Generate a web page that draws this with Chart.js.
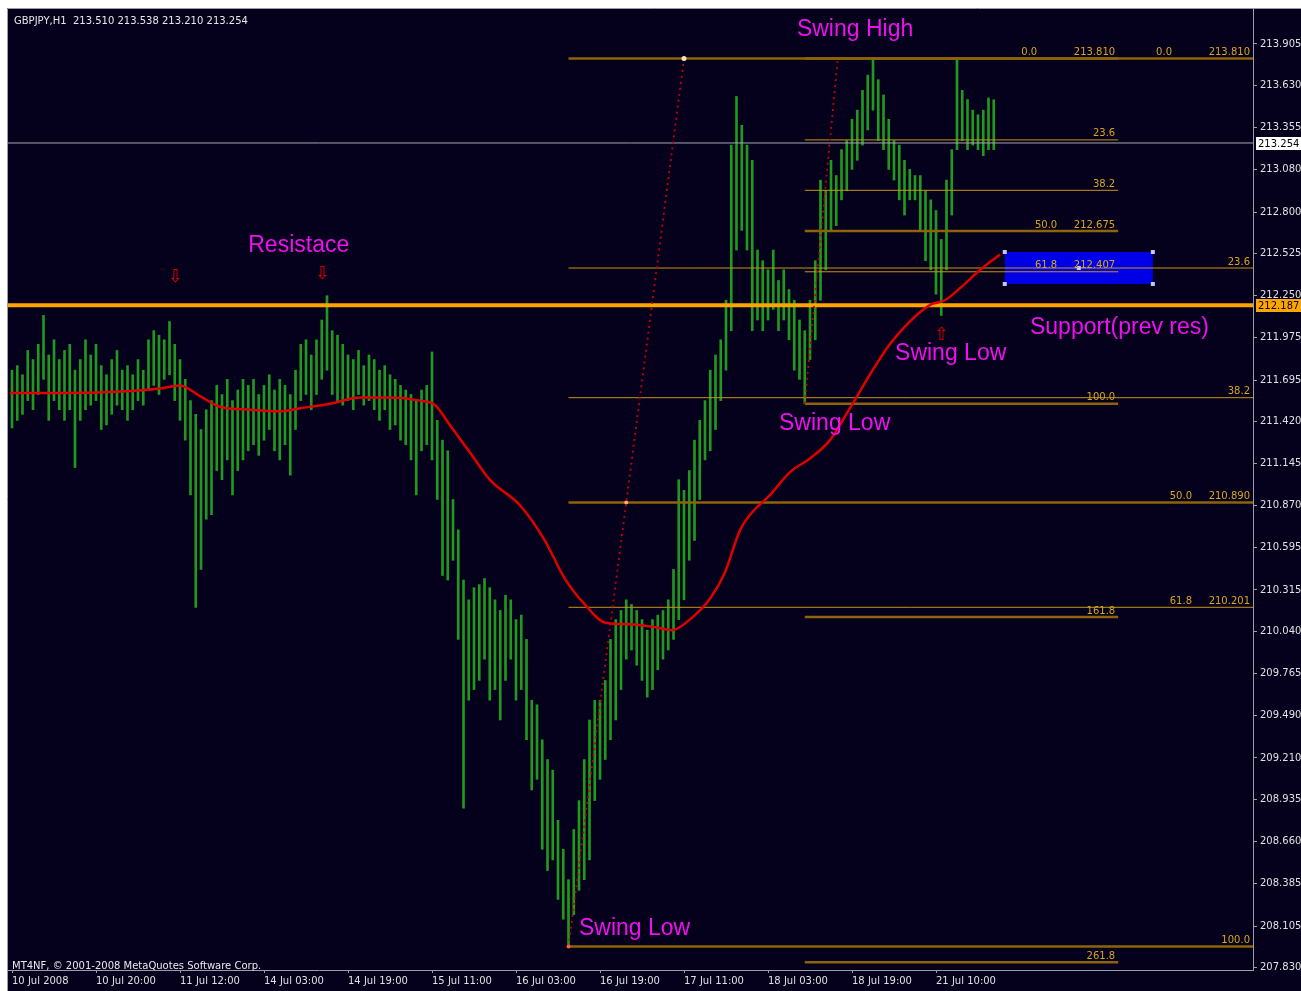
<!DOCTYPE html>
<html>
<head>
<meta charset="utf-8">
<title>GBPJPY,H1</title>
<script src="https://cdn.jsdelivr.net/npm/chart.js@4.4.1/dist/chart.umd.min.js"></script>
<style>
  html, body { margin: 0; padding: 0; background: #ffffff; }
  #wrap { width: 1301px; height: 991px; }
</style>
</head>
<body>
<div id="wrap"><canvas id="gbpjpy_chart" width="1301" height="991"></canvas></div>
<script>
// hourly bars, index 0 = 10 Jul 2008
const barHigh = [
    211.76, 211.79, 211.73, 211.89, 211.83, 211.93, 212.12, 211.86, 211.96, 211.83,
    211.89, 211.93, 211.76, 211.83, 211.96, 211.86, 211.93, 211.79, 211.73, 211.83,
    211.89, 211.76, 211.79, 211.73, 211.83, 211.76, 211.96, 212.02, 211.99, 211.96,
    212.08, 211.93, 211.83, 211.70, 211.56, 211.47, 211.37, 211.50, 211.56, 211.66,
    211.60, 211.70, 211.56, 211.63, 211.70, 211.66, 211.70, 211.60, 211.66, 211.73,
    211.63, 211.70, 211.66, 211.60, 211.76, 211.93, 211.96, 211.86, 211.96, 212.09,
    212.25, 212.02, 211.99, 211.93, 211.86, 211.83, 211.89, 211.79, 211.86, 211.83,
    211.76, 211.79, 211.73, 211.70, 211.66, 211.63, 211.60, 211.56, 211.63, 211.66,
    211.88, 211.43, 211.30, 211.23, 210.91, 210.71, 210.38, 210.25, 210.33, 210.35,
    210.39, 210.33, 210.25, 210.18, 210.28, 210.25, 210.12, 210.15, 209.99, 209.59,
    209.56, 209.33, 209.20, 209.13, 208.80, 208.61, 208.41, 208.74, 208.93, 209.20,
    209.46, 209.59, 209.59, 209.72, 209.99, 210.12, 210.18, 210.25, 210.22, 210.18,
    210.12, 210.05, 210.12, 210.15, 210.18, 210.25, 210.45, 211.04, 210.97, 211.10,
    211.30, 211.43, 211.56, 211.76, 211.86, 211.96, 212.22, 213.24, 213.56, 213.37,
    213.24, 213.14, 212.55, 212.48, 212.42, 212.55, 212.35, 212.42, 212.29, 212.22,
    212.09, 212.02, 212.22, 212.48, 213.01, 212.94, 213.14, 213.04, 213.21, 213.27,
    213.41, 213.47, 213.60, 213.70, 213.81, 213.67, 213.57, 213.41, 213.27, 213.24,
    213.14, 213.08, 213.04, 213.04, 212.94, 212.88, 212.81, 212.62, 213.01, 213.21,
    213.80, 213.60, 213.54, 213.47, 213.44, 213.47, 213.55, 213.538
];
const barLow = [
    211.38, 211.43, 211.47, 211.56, 211.50, 211.60, 211.70, 211.43, 211.56, 211.50,
    211.43, 211.50, 211.12, 211.43, 211.50, 211.53, 211.56, 211.37, 211.40, 211.47,
    211.53, 211.50, 211.43, 211.50, 211.56, 211.53, 211.63, 211.66, 211.60, 211.70,
    211.73, 211.56, 211.43, 211.30, 210.94, 210.20, 210.45, 210.78, 210.81, 211.10,
    211.04, 211.17, 210.94, 211.10, 211.17, 211.23, 211.27, 211.20, 211.30, 211.37,
    211.23, 211.17, 211.27, 211.07, 211.37, 211.56, 211.60, 211.50, 211.60, 211.70,
    211.76, 211.60, 211.56, 211.53, 211.56, 211.50, 211.60, 211.53, 211.56, 211.50,
    211.43, 211.50, 211.37, 211.40, 211.30, 211.27, 211.17, 210.94, 211.23, 211.27,
    211.17, 210.91, 210.41, 210.38, 210.51, 209.99, 208.88, 209.59, 209.66, 209.72,
    209.86, 209.59, 209.66, 209.46, 209.72, 209.86, 209.59, 209.66, 209.33, 209.00,
    209.07, 208.61, 208.47, 208.54, 208.28, 208.15, 207.97, 208.18, 208.34, 208.41,
    208.54, 208.93, 209.07, 209.20, 209.33, 209.46, 209.66, 209.86, 209.92, 209.82,
    209.72, 209.61, 209.66, 209.79, 209.86, 209.92, 209.99, 210.12, 210.25, 210.51,
    210.64, 210.91, 211.17, 211.23, 211.37, 211.56, 211.76, 212.02, 212.55, 212.68,
    212.55, 212.02, 212.09, 212.02, 212.09, 212.16, 212.02, 212.09, 211.96, 211.76,
    211.70, 211.54, 211.83, 211.96, 212.22, 212.42, 212.68, 212.71, 212.88, 212.94,
    213.08, 213.14, 213.24, 213.34, 213.47, 213.27, 213.21, 213.08, 213.01, 212.88,
    212.78, 212.88, 212.88, 212.68, 212.48, 212.42, 212.26, 212.12, 212.42, 212.78,
    213.21, 213.27, 213.21, 213.24, 213.21, 213.17, 213.21, 213.210
];

// red moving average, read at a few bar positions
const maIndex = [-0.4, 9.1, 20.6, 28.2, 32, 35.8, 39.6, 45.3, 51, 54.9, 60.6, 66.3, 72, 77.7, 80.6,
    83.4, 87.2, 91, 96.8, 101.5, 105.3, 109.1, 113, 117.7, 122.5, 125.7, 129.1, 133, 135.8, 138.7,
    140.6, 144.4, 148.2, 152, 155.8, 159.6, 163.4, 167.2, 171, 174.9, 177.7, 180.6, 184.4, 188.2];
const maPrice = [211.61, 211.61, 211.62, 211.64, 211.66, 211.59, 211.52, 211.50, 211.49, 211.51, 211.54, 211.58, 211.58, 211.56, 211.53,
    211.40, 211.22, 211.04, 210.87, 210.64, 210.39, 210.22, 210.10, 210.09, 210.07, 210.05, 210.12, 210.26, 210.43, 210.71,
    210.81, 210.94, 211.09, 211.18, 211.30, 211.51, 211.73, 211.93, 212.08, 212.19, 212.22, 212.30, 212.42, 212.52];

const dateTickIndex = [0, 16, 32, 48, 64, 80, 96, 112, 128, 144, 160, 176];
const dateLabels = ['10 Jul 2008', '10 Jul 20:00', '11 Jul 12:00', '14 Jul 03:00', '14 Jul 19:00', '15 Jul 11:00',
    '16 Jul 03:00', '16 Jul 19:00', '17 Jul 11:00', '18 Jul 03:00', '18 Jul 19:00', '21 Jul 10:00'];
const priceTicks = [213.905, 213.630, 213.355, 213.080, 212.800, 212.525, 212.250, 211.975, 211.695, 211.420, 211.145,
    210.870, 210.595, 210.315, 210.040, 209.765, 209.490, 209.210, 208.935, 208.660, 208.385, 208.105, 207.830];

// fibonacci objects: [start bar, low, end bar, high]
const bigFib = [106, 207.970, 128, 213.810];
const smallFib = [151, 211.540, 157.3, 213.810];
const bigFibLevels = [0, 23.6, 38.2, 50, 61.8, 100];
const smallFibLevels = [0, 23.6, 38.2, 50, 61.8, 100, 161.8, 261.8];
const fibThickLevels = [0, 50, 100, 161.8, 261.8];
const fibPriceLevels = [0, 50, 61.8];
const smallFibEnd = 210.7;

const bidPrice = 213.254;
const supportPrice = 212.187;
const zoneBox = [189.1, 212.537, 217.3, 212.327];

const notes = ['Swing High', 'Resistace', 'Support(prev res)', 'Swing Low', 'Swing Low', 'Swing Low'];
const noteIndex = [149.5, 45, 193.9, 168.2, 146.1, 108];
const notePrice = [214.00, 212.58, 212.04, 211.87, 211.41, 208.09];
const arrowGlyph = ['\u21e9', '\u21e9', '\u21e7'];
const arrowIndex = [31.2, 59.2, 177.1];
const arrowPrice = [212.37, 212.39, 211.99];

document.addEventListener('DOMContentLoaded', function () {
    const ctx = document.getElementById('gbpjpy_chart').getContext('2d');
    const xMin = -0.762, xMax = 236.38;
    const fibDim = '#8e6408', fibBright = '#c8960e', fibText = '#d8a520';

    function fibPrice(f, lvl) {
        return f[3] - (f[3] - f[1]) * lvl / 100;
    }

    function fibLines(f, levels, endX) {
        return levels.map(lvl => {
            const thick = fibThickLevels.includes(lvl);
            return {
                type: 'line',
                data: [{ x: f[0], y: fibPrice(f, lvl) }, { x: endX, y: fibPrice(f, lvl) }],
                borderColor: thick ? fibDim : fibBright,
                borderWidth: thick ? 2.5 : 1,
                pointRadius: 0,
                order: 4
            };
        });
    }

    const bars = barHigh.map((h, i) => ({ x: i, y: [barLow[i], h] }));
    const ma = maIndex.map((x, i) => ({ x: x, y: maPrice[i] }));

    const backdrop = {
        id: 'backdrop',
        beforeDraw(chart) {
            const c = chart.ctx;
            c.save();
            c.fillStyle = '#ffffff';
            c.fillRect(0, 0, chart.width, chart.height);
            c.fillStyle = '#05011d';
            c.fillRect(7, 8, chart.width - 7, chart.height - 8);
            c.strokeStyle = '#9c9cab';
            c.lineWidth = 1;
            c.beginPath();
            c.moveTo(7.5, chart.height);
            c.lineTo(7.5, 8.5);
            c.lineTo(chart.width, 8.5);
            c.stroke();
            c.restore();
        },
        beforeDatasetsDraw(chart) {
            const c = chart.ctx, xs = chart.scales.x, ys = chart.scales.y;
            const x1 = xs.getPixelForValue(zoneBox[0]), x2 = xs.getPixelForValue(zoneBox[2]);
            const y1 = ys.getPixelForValue(zoneBox[1]), y2 = ys.getPixelForValue(zoneBox[3]);
            c.save();
            c.fillStyle = '#0000e6';
            c.fillRect(x1, y1, x2 - x1, y2 - y1);
            c.restore();
        }
    };

    const labels = {
        id: 'labels',
        afterDatasetsDraw(chart) {
            const c = chart.ctx, xs = chart.scales.x, ys = chart.scales.y;
            c.save();

            // box handles
            const x1 = xs.getPixelForValue(zoneBox[0]), x2 = xs.getPixelForValue(zoneBox[2]);
            const y1 = ys.getPixelForValue(zoneBox[1]), y2 = ys.getPixelForValue(zoneBox[3]);
            c.fillStyle = '#c8c8ff';
            [[x1, y1], [x2, y1], [x1, y2], [x2, y2], [(x1 + x2) / 2, (y1 + y2) / 2]].forEach(p => {
                c.fillRect(p[0] - 2, p[1] - 2, 4, 4);
            });

            // fib texts
            c.font = '10px "DejaVu Sans"';
            c.fillStyle = fibText;
            c.textBaseline = 'bottom';
            c.textAlign = 'right';
            const fibs = [[bigFib, bigFibLevels, xMax], [smallFib, smallFibLevels, smallFibEnd]];
            fibs.forEach(([f, levels, endX]) => {
                const xe = Math.min(xs.getPixelForValue(endX), chart.chartArea.right) - 3;
                levels.forEach(lvl => {
                    const p = fibPrice(f, lvl);
                    const y = ys.getPixelForValue(p) - 1;
                    const lvlText = lvl.toFixed(1);
                    if (fibPriceLevels.includes(lvl)) {
                        c.fillText(p.toFixed(3), xe, y);
                        c.fillText(lvlText, xe - (lvl === 0 ? 78 : 58), y);
                    } else {
                        c.fillText(lvlText, xe, y);
                    }
                });
            });

            // notes
            c.font = '23px "Liberation Sans"';
            c.fillStyle = '#ee10ee';
            c.textAlign = 'left';
            c.textBaseline = 'middle';
            notes.forEach((t, i) => {
                c.fillText(t, xs.getPixelForValue(noteIndex[i]), ys.getPixelForValue(notePrice[i]));
            });

            c.font = '18px "DejaVu Sans"';
            c.fillStyle = '#e00000';
            c.textAlign = 'center';
            arrowGlyph.forEach((g, i) => {
                c.fillText(g, xs.getPixelForValue(arrowIndex[i]), ys.getPixelForValue(arrowPrice[i]));
            });

            // header + copyright
            c.font = '10px "DejaVu Sans"';
            c.fillStyle = '#e8e8e8';
            c.textAlign = 'left';
            c.fillText('GBPJPY,H1  ' + [213.510, barHigh[barHigh.length - 1], barLow[barLow.length - 1], bidPrice].map(v => v.toFixed(3)).join(' '), 14, 21);
            c.fillText('MT4NF, \u00a9 2001-2008 MetaQuotes Software Corp.', 12, 966);
            c.restore();
        },
        afterDraw(chart) {
            const c = chart.ctx, ys = chart.scales.y;
            const left = chart.chartArea.right + 3;
            c.save();
            c.font = '10px "DejaVu Sans"';
            c.textBaseline = 'middle';
            c.textAlign = 'left';
            [[bidPrice, '#ffffff'], [supportPrice, '#ffa500']].forEach(([p, col]) => {
                const y = Math.round(ys.getPixelForValue(p));
                c.fillStyle = col;
                c.fillRect(left, y - 6, chart.width - left, 13);
                c.fillStyle = '#000000';
                c.fillText(p.toFixed(3), left + 2, y + 1);
            });
            c.restore();
        }
    };

    const datasets = [
        {
            type: 'line',
            data: ma,
            borderColor: '#e00000',
            borderWidth: 2.5,
            pointRadius: 0,
            cubicInterpolationMode: 'monotone',
            order: 1
        },
        {
            type: 'line',
            data: [{ x: bigFib[0], y: bigFib[1] }, { x: bigFib[2], y: bigFib[3] }],
            borderColor: '#c80000',
            borderWidth: 1.8,
            borderDash: [2, 4],
            pointRadius: [2, 2.5],
            pointBackgroundColor: ['#ff6040', '#ffe0b0'],
            pointBorderWidth: 0,
            order: 2
        },
        {
            type: 'line',
            data: [{ x: smallFib[0], y: smallFib[1] }, { x: smallFib[2], y: smallFib[3] }],
            borderColor: '#c80000',
            borderWidth: 1.8,
            borderDash: [2, 4],
            pointRadius: 0,
            order: 2
        },
        {
            type: 'scatter',
            data: [{ x: (bigFib[0] + bigFib[2]) / 2, y: fibPrice(bigFib, 50) }],
            pointRadius: 2,
            pointBackgroundColor: '#ffb070',
            pointBorderWidth: 0,
            order: 2
        },
        {
            type: 'line',
            data: [{ x: xMin, y: supportPrice }, { x: xMax, y: supportPrice }],
            borderColor: '#ffa500',
            borderWidth: 4,
            pointRadius: 0,
            order: 3
        },
        {
            type: 'line',
            data: [{ x: xMin, y: bidPrice }, { x: xMax, y: bidPrice }],
            borderColor: '#a8a8b4',
            borderWidth: 1,
            pointRadius: 0,
            order: 5
        }
    ].concat(fibLines(bigFib, bigFibLevels, xMax), fibLines(smallFib, smallFibLevels, smallFibEnd), [{
        type: 'bar',
        data: bars,
        backgroundColor: '#1f9a1f',
        barThickness: 2,
        order: 6
    }]);

    const chart = new Chart(ctx, {
        type: 'bar',
        data: { datasets: datasets },
        options: {
            responsive: false,
            devicePixelRatio: 1,
            animation: false,
            layout: { padding: { left: 8, top: 9, right: 0, bottom: 0 } },
            plugins: {
                legend: { display: false },
                tooltip: { enabled: false }
            },
            scales: {
                x: {
                    type: 'linear',
                    min: xMin,
                    max: xMax,
                    offset: false,
                    afterFit: s => { s.height = 21; },
                    afterBuildTicks: s => { s.ticks = dateTickIndex.map(v => ({ value: v })); },
                    grid: { display: true, drawOnChartArea: false, tickLength: 3, color: '#9c9cab', offset: false },
                    border: { display: true, color: '#9c9cab', width: 1 },
                    ticks: {
                        autoSkip: false,
                        maxRotation: 0,
                        align: 'start',
                        padding: 2,
                        color: '#e0e0e0',
                        font: { family: 'DejaVu Sans', size: 10 },
                        callback: (v, i) => dateLabels[i]
                    }
                },
                y: {
                    type: 'linear',
                    position: 'right',
                    min: 207.816,
                    max: 214.135,
                    afterFit: s => { s.width = 48; },
                    afterBuildTicks: s => { s.ticks = priceTicks.map(v => ({ value: v })); },
                    grid: { display: true, drawOnChartArea: false, tickLength: 4, color: '#9c9cab' },
                    border: { display: true, color: '#9c9cab', width: 1 },
                    ticks: {
                        padding: 3,
                        color: '#e0e0e0',
                        font: { family: 'DejaVu Sans', size: 10 },
                        callback: (v, i) => priceTicks[i].toFixed(3)
                    }
                }
            }
        },
        plugins: [backdrop, labels]
    });
});
</script>
</body>
</html>
